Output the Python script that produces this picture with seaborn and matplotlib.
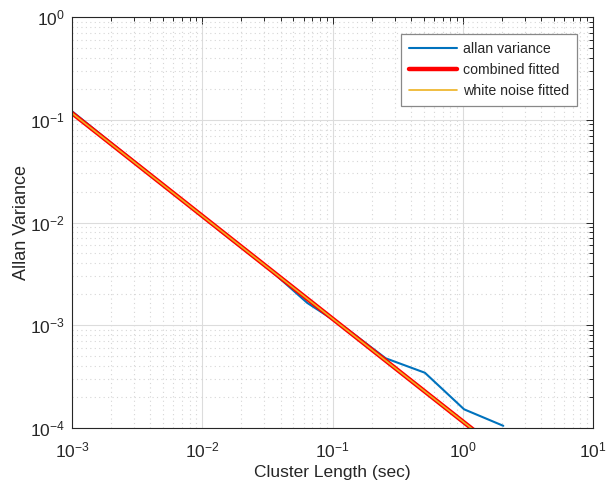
import numpy as np
import pandas as pd
import matplotlib
matplotlib.use("Agg")
import matplotlib.pyplot as plt
import seaborn as sns
from matplotlib.ticker import LogLocator, NullFormatter

# data
tau = [0.001, 0.002, 0.004, 0.008, 0.016, 0.032, 0.064, 0.128, 0.256, 0.512, 1.024, 2.048]
allan_var = [0.121, 0.0595, 0.0295, 0.0144, 0.0071, 0.0036, 0.00165, 0.00093,
             0.000477, 0.000345, 0.000152, 0.000105]
tau_fit = [0.001, 2.048]
combined_fit = [0.116, 0.0000566]
white_fit = [0.116, 0.0000566]

sns.set_theme(style="white")
plt.rcParams['font.family'] = ['Liberation Sans', 'DejaVu Sans']
plt.rcParams['mathtext.fontset'] = 'custom'
plt.rcParams['mathtext.rm'] = 'Liberation Sans'
plt.rcParams['mathtext.it'] = 'Liberation Sans:italic'
plt.rcParams['mathtext.default'] = 'regular'

fig = plt.figure(figsize=(6.14, 4.84), dpi=100)
ax = fig.add_axes([72/614, 1-428/484, (593-72)/614, (428-17)/484])

df = pd.DataFrame({"tau": tau, "v": allan_var})
dff = pd.DataFrame({"tau": tau_fit, "c": combined_fit, "w": white_fit})

sns.lineplot(data=df, x="tau", y="v", ax=ax, color="#0072BD", lw=1.5, label="allan variance")
sns.lineplot(data=dff, x="tau", y="c", ax=ax, color="#FF0000", lw=3.2, label="combined fitted")
sns.lineplot(data=dff, x="tau", y="w", ax=ax, color="#EDB120", lw=1.2, label="white noise fitted")

ax.set_xscale("log")
ax.set_yscale("log")
ax.set_xlim(1e-3, 1e1)
ax.set_ylim(1e-4, 1e0)

ax.xaxis.set_major_locator(LogLocator(base=10, numticks=10))
ax.yaxis.set_major_locator(LogLocator(base=10, numticks=10))
ax.xaxis.set_minor_locator(LogLocator(base=10, subs=np.arange(2, 10), numticks=20))
ax.yaxis.set_minor_locator(LogLocator(base=10, subs=np.arange(2, 10), numticks=20))
ax.xaxis.set_minor_formatter(NullFormatter())
ax.yaxis.set_minor_formatter(NullFormatter())

ax.grid(True, which="major", color="#DCDCDC", lw=0.8, ls="-")
ax.grid(True, which="minor", color="#D6D6D6", lw=0.8, ls=(0, (1, 3)))
ax.set_axisbelow(True)

for s in ax.spines.values():
    s.set_color("#262626")
    s.set_linewidth(0.8)
ax.tick_params(which="both", direction="in", top=True, right=True, colors="#262626",
               labelcolor="#262626", width=0.7)
ax.tick_params(which="major", length=5, labelsize=12.5)
ax.tick_params(axis="x", which="major", pad=9)
ax.tick_params(axis="y", which="major", pad=5)
ax.tick_params(which="minor", length=3)

ax.set_xlabel("Cluster Length (sec)", fontsize=12.5, color="#262626", labelpad=3)
ax.set_ylabel("Allan Variance", fontsize=13, color="#262626", labelpad=0)

leg = ax.legend(loc="upper right", bbox_to_anchor=(0.969, 0.959), borderaxespad=0,
                fontsize=10.2, frameon=True, fancybox=False, edgecolor="#888888",
                framealpha=1, handlelength=3.4, handletextpad=0.4, borderpad=0.55,
                labelspacing=0.5)
leg.get_frame().set_linewidth(0.9)

fig.savefig("out.png", dpi=100)
